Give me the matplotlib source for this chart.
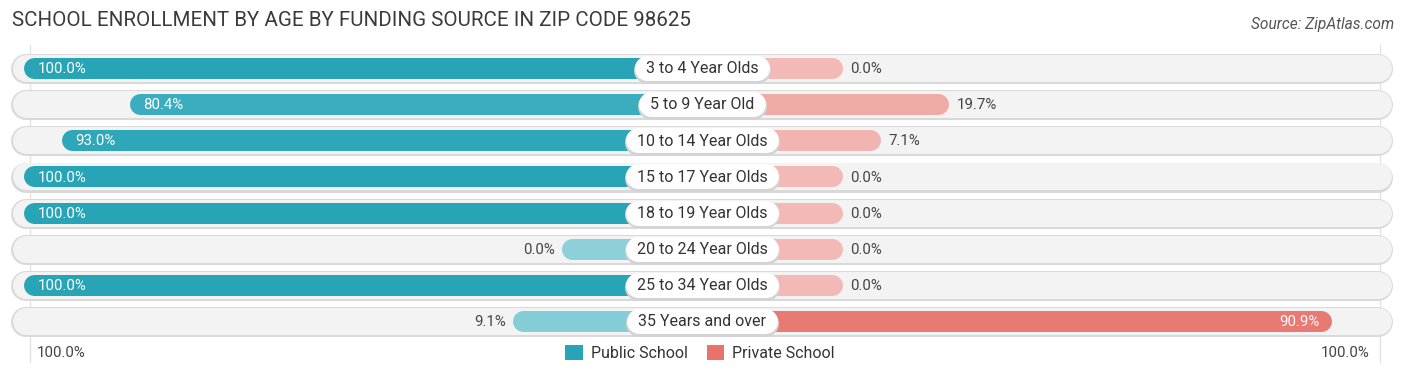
import matplotlib
matplotlib.use("Agg")
import matplotlib.pyplot as plt
from matplotlib.patches import Patch
import matplotlib.colors as mcolors
import numpy as np

plt.rcParams['font.family'] = ['Roboto', 'DejaVu Sans']

categories = ["3 to 4 Year Olds", "5 to 9 Year Old", "10 to 14 Year Olds", "15 to 17 Year Olds",
              "18 to 19 Year Olds", "20 to 24 Year Olds", "25 to 34 Year Olds", "35 Years and over"]
public = [100.0, 80.4, 93.0, 100.0, 100.0, 0.0, 100.0, 9.1]
private = [0.0, 19.7, 7.1, 0.0, 0.0, 0.0, 0.0, 90.9]

title = "SCHOOL ENROLLMENT BY AGE BY FUNDING SOURCE IN ZIP CODE 98625"
source = "Source: ZipAtlas.com"

PUB_FULL, PUB_LIGHT = "#27a5b7", "#8dd0d9"
PRI_FULL, PRI_LIGHT = "#e8736c", "#f3b9b6"

W, H, DPI = 1406, 377, 100
PX = 5.38          # pixels per percent
CX = 702           # centre pixel
OFF = 26.1         # stub offset (percent units) under the label
PT = 72 / DPI      # points per pixel


def shade(light, full, v):
    a = np.array(mcolors.to_rgb(light))
    b = np.array(mcolors.to_rgb(full))
    t = min(1.0, v / 100.0)
    return tuple(a + (b - a) * t)


fig = plt.figure(figsize=(W / DPI, H / DPI), dpi=DPI)
ax = fig.add_axes([0, 0, 1, 1])
ax.set_xlim(-CX / PX, (W - CX) / PX)
row0, step = 68, 36.14
ax.set_ylim((H - row0) / step, -row0 / step)
ax.axis("off")

def px2x(p):
    return (p - CX) / PX

# faint vertical guides
for gx in (30, 1380):
    ax.plot([px2x(gx)] * 2, [(45 - row0) / step, (362 - row0) / step], color="#e2e2e2", lw=1, zorder=0)

half_bg = 14 / PX
half_bar = 10.5 / PX
for i, (cat, pu, pr) in enumerate(zip(categories, public, private)):
    # background pill
    xl, xr = px2x(12) + half_bg, px2x(1392) - half_bg
    ax.plot([xl, xr], [i + 0.03, i + 0.03], color="#d9d9d9", lw=30 * PT, solid_capstyle="round", zorder=1)
    ax.plot([xl, xr], [i, i], color="#f3f3f3", lw=27 * PT, solid_capstyle="round", zorder=1.1)

    # public bar (left)
    left = -(OFF + pu)
    ax.plot([left + half_bar, -half_bar], [i, i], color=shade(PUB_LIGHT, PUB_FULL, pu),
            lw=21 * PT, solid_capstyle="round", zorder=2)
    # private bar (right)
    right = OFF + pr
    ax.plot([half_bar, right - half_bar], [i, i], color=shade(PRI_LIGHT, PRI_FULL, pr),
            lw=21 * PT, solid_capstyle="round", zorder=2)

    if pu > 50:
        ax.text(left + 14 / PX, i + 0.03, f"{pu:.1f}%", ha="left", va="center", color="white", fontsize=10.8, zorder=5)
    else:
        ax.text(left - 7 / PX, i + 0.03, f"{pu:.1f}%", ha="right", va="center", color="#444444", fontsize=10.8, zorder=5)
    if pr > 50:
        ax.text(right - 12 / PX, i + 0.03, f"{pr:.1f}%", ha="right", va="center", color="white", fontsize=10.8, zorder=5)
    else:
        ax.text(right + 8 / PX, i + 0.03, f"{pr:.1f}%", ha="left", va="center", color="#444444", fontsize=10.8, zorder=5)

# category labels with pill boxes sized to the text
renderer = fig.canvas.get_renderer()
for i, cat in enumerate(categories):
    t = ax.text(0, i + 0.02, cat, ha="center", va="center", fontsize=11.5, color="#333333", zorder=6)
    w = t.get_window_extent(renderer).width / PX
    hw = w / 2 - 1 / PX
    ax.plot([-hw, hw], [i + 0.05, i + 0.05], color="#d4d4d4", lw=27 * PT, solid_capstyle="round", zorder=3)
    ax.plot([-hw, hw], [i, i], color="white", lw=25 * PT, solid_capstyle="round", zorder=4)

fig.text(12 / W, 1 - 20 / H, title, ha="left", va="center", fontsize=14.8, color="#3a3a3a")
fig.text(1394 / W, 1 - 25 / H, source, ha="right", va="center", fontsize=11.2, color="#555555", style="italic")

fig.text(37 / W, 1 - 353 / H, "100.0%", ha="left", va="center", fontsize=10.8, color="#444444")
fig.text(1370 / W, 1 - 353 / H, "100.0%", ha="right", va="center", fontsize=10.8, color="#444444")

handles = [Patch(facecolor=PUB_FULL, label="Public School"), Patch(facecolor=PRI_FULL, label="Private School")]
fig.legend(handles=handles, loc="center", bbox_to_anchor=(700 / W, 1 - 353 / H), ncol=2, frameon=False,
           fontsize=11.5, handlelength=1.1, handleheight=1.1, columnspacing=1.2, handletextpad=0.5,
           labelcolor="#333333")

fig.savefig("out.png", dpi=DPI)
